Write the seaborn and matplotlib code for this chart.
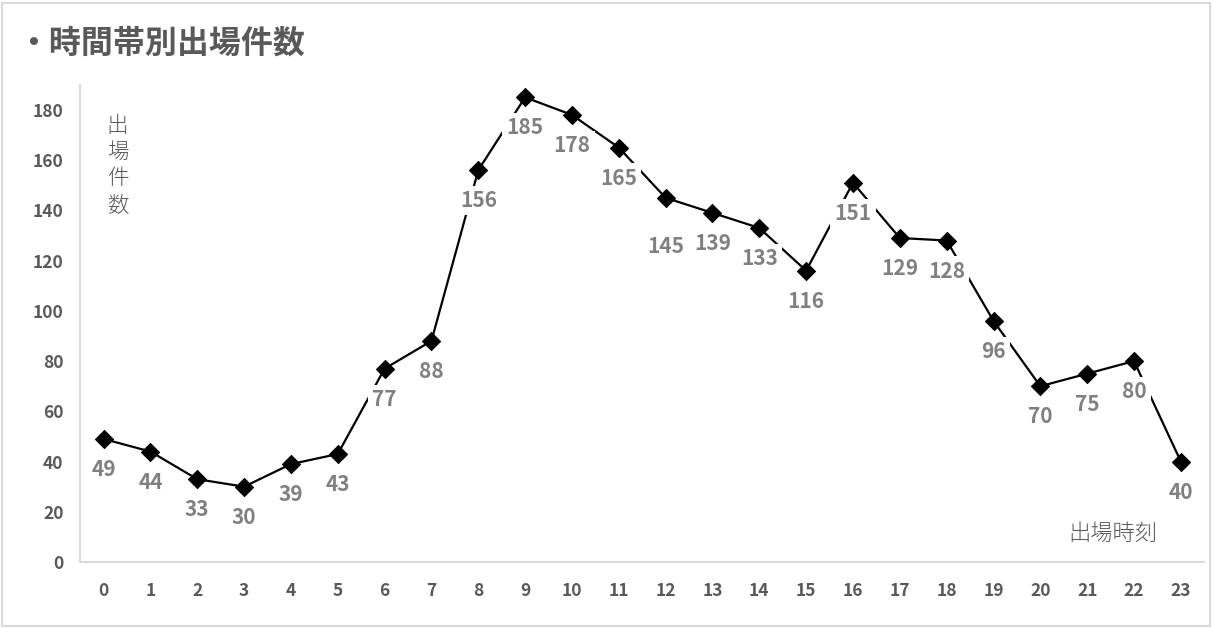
import matplotlib.pyplot as plt
import matplotlib.patches as mpatches
import pandas as pd
import seaborn as sns

# hourly dispatch counts
hours = list(range(24))
counts = [49, 44, 33, 30, 39, 43, 77, 88, 156, 185, 178, 165,
          145, 139, 133, 116, 151, 129, 128, 96, 70, 75, 80, 40]
y_ticks = [0, 20, 40, 60, 80, 100, 120, 140, 160, 180]

df = pd.DataFrame({"hour": hours, "count": counts})

sns.set_style("white")
plt.rcParams["font.family"] = ["Noto Sans CJK JP", "DejaVu Sans"]

fig = plt.figure(figsize=(12.14, 6.28), dpi=100)
ax = fig.add_axes([0.066, 0.105, 0.926, 0.76])

# line first, then labels (white boxes cut the line), then markers on top
sns.lineplot(data=df, x="hour", y="count", ax=ax, color="black", linewidth=1.6, zorder=1)
sns.scatterplot(data=df, x="hour", y="count", ax=ax, marker="D", color="black",
                s=85, edgecolor="black", zorder=4)

for h, c in zip(hours, counts):
    dy = -35 if c == 145 else -22
    ax.annotate(str(c), (h, c), xytext=(0, dy), textcoords="offset points",
                ha="center", va="center", fontsize=15, fontweight="bold", color="#808080",
                bbox=dict(boxstyle="square,pad=0.2", fc="white", ec="none"), zorder=3)

ax.set_xlim(-0.5, 23.5)
ax.set_ylim(0, 190)
ax.set_xticks(hours)
ax.set_xticklabels([str(h) for h in hours])
ax.set_yticks(y_ticks)
ax.tick_params(axis="both", length=0, labelsize=12.5, labelcolor="#595959")
ax.tick_params(axis="x", pad=14)
ax.tick_params(axis="y", pad=12)
for lbl in ax.get_xticklabels() + ax.get_yticklabels():
    lbl.set_fontweight("bold")
ax.set_xlabel("")
ax.set_ylabel("")

for side in ["top", "right"]:
    ax.spines[side].set_visible(False)
for side in ["left", "bottom"]:
    ax.spines[side].set_color("#d9d9d9")
    ax.spines[side].set_linewidth(1.5)

# axis titles inside the plot area, like the original
ax.text(0.3, 178, "\n".join("出場件数"), fontsize=15.5, color="#595959",
        ha="center", va="top", linespacing=1.25, fontweight="light")
ax.text(22.5, 7, "出場時刻", fontsize=16, color="#595959", ha="right",
        va="bottom", fontweight="light")

fig.text(0.014, 0.93, "・時間帯別出場件数", fontsize=23, fontweight="bold",
         color="#595959", ha="left", va="center")

fig.patches.append(mpatches.Rectangle((0.002, 0.003), 0.995, 0.993, transform=fig.transFigure,
                                      fill=False, edgecolor="#d9d9d9", linewidth=1.5))

fig.savefig("out.png", dpi=100)
